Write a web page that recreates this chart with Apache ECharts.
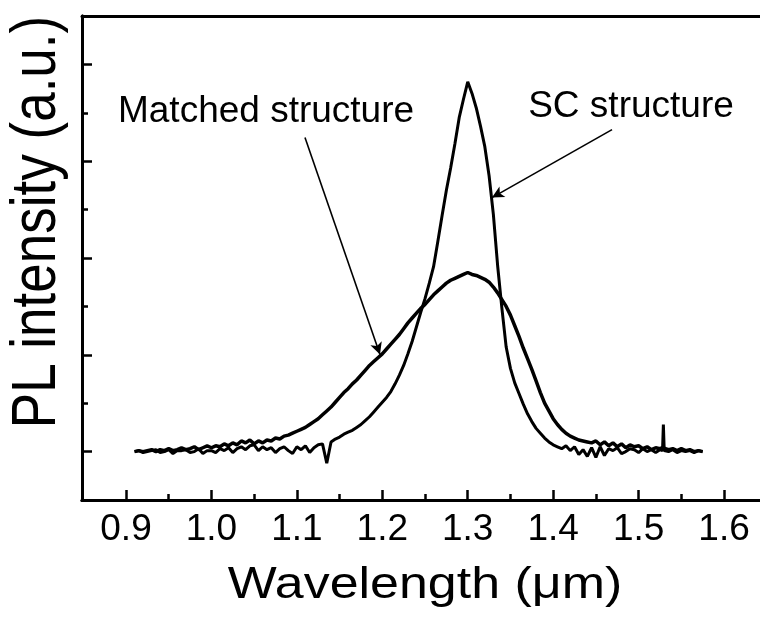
<!DOCTYPE html>
<html>
<head>
<meta charset="utf-8">
<script src="https://cdn.jsdelivr.net/npm/echarts@6/dist/echarts.min.js"></script>
<style>
  html, body { margin: 0; padding: 0; background: #fff; }
  #main { width: 760px; height: 620px; }
</style>
</head>
<body>
<div id="main"></div>
<script>
// wavelength samples (um)
const wavelength = [
  0.910, 0.915, 0.920, 0.925, 0.930, 0.935, 0.940, 0.945, 0.950, 0.955,
  0.960, 0.965, 0.970, 0.975, 0.980, 0.985, 0.990, 0.995, 1.000, 1.005,
  1.010, 1.015, 1.020, 1.025, 1.030, 1.035, 1.040, 1.045, 1.050, 1.055,
  1.060, 1.065, 1.070, 1.075, 1.080, 1.085, 1.090, 1.095, 1.100, 1.105,
  1.110, 1.115, 1.120, 1.125, 1.130, 1.135, 1.140, 1.145, 1.150, 1.155,
  1.160, 1.165, 1.170, 1.175, 1.180, 1.185, 1.190, 1.195, 1.200, 1.205,
  1.210, 1.215, 1.220, 1.225, 1.230, 1.235, 1.240, 1.245, 1.250, 1.255,
  1.260, 1.265, 1.270, 1.275, 1.280, 1.285, 1.290, 1.295, 1.300, 1.305,
  1.310, 1.315, 1.320, 1.325, 1.330, 1.335, 1.340, 1.345, 1.350, 1.355,
  1.360, 1.365, 1.370, 1.375, 1.380, 1.385, 1.390, 1.395, 1.400, 1.405,
  1.410, 1.415, 1.420, 1.425, 1.430, 1.435, 1.440, 1.445, 1.450, 1.455,
  1.460, 1.465, 1.470, 1.475, 1.480, 1.485, 1.490, 1.495, 1.500, 1.505,
  1.510, 1.515, 1.520, 1.525, 1.528, 1.529,
  1.530, 1.535, 1.540, 1.545, 1.550, 1.555, 1.560, 1.565, 1.570, 1.575
];

// SC structure (narrow peak)
const scStructure = [
  0.00, 0.01, -0.01, 0.00, 0.01, 0.02, -0.01, 0.00, 0.02, -0.02,
  0.01, 0.01, 0.02, -0.01, 0.00, 0.03, -0.02, 0.01, 0.01, -0.01,
  0.03, 0.01, 0.04, -0.01, 0.03, 0.05, 0.02, 0.06, 0.07, 0.01,
  0.05, 0.02, 0.04, -0.01, 0.03, 0.05, 0.01, -0.02, 0.05, 0.02,
  0.06, -0.01, 0.04, 0.07, 0.08, -0.12, 0.10, 0.13, 0.15, 0.18,
  0.20, 0.22, 0.25, 0.28, 0.32, 0.36, 0.41, 0.46, 0.51, 0.56,
  0.62, 0.70, 0.79, 0.89, 1.01, 1.14, 1.29, 1.44, 1.58, 1.74,
  1.91, 2.17, 2.44, 2.70, 2.93, 3.18, 3.45, 3.64, 3.82, 3.70,
  3.55, 3.36, 3.15, 2.85, 2.45, 1.92, 1.48, 1.08, 0.86, 0.71,
  0.60, 0.49, 0.39, 0.31, 0.24, 0.19, 0.14, 0.10, 0.07, 0.05,
  0.03, 0.06, 0.01, 0.05, -0.03, 0.02, -0.05, 0.04, -0.06, 0.05,
  -0.04, 0.03, 0.01, 0.04, -0.02, 0.00, 0.03, 0.02, -0.01, 0.03,
  0.00, 0.02, -0.01, 0.02, 0.01, 0.28,
  0.01, 0.00, 0.02, -0.01, 0.01, 0.00, 0.01, -0.01, 0.01, 0.00
];

// Matched structure (broad peak)
const matchedStructure = [
  0.00, 0.01, 0.00, 0.01, 0.02, 0.00, 0.02, 0.01, 0.03, 0.01,
  0.02, 0.04, 0.02, 0.03, 0.05, 0.02, 0.04, 0.06, 0.04, 0.06,
  0.05, 0.08, 0.06, 0.09, 0.07, 0.11, 0.09, 0.12, 0.08, 0.11,
  0.09, 0.12, 0.11, 0.14, 0.13, 0.16, 0.17, 0.19, 0.21, 0.23,
  0.25, 0.28, 0.31, 0.34, 0.38, 0.42, 0.46, 0.51, 0.56, 0.61,
  0.65, 0.70, 0.74, 0.79, 0.84, 0.89, 0.93, 0.97, 1.01, 1.06,
  1.11, 1.16, 1.21, 1.27, 1.33, 1.38, 1.43, 1.48, 1.52, 1.57,
  1.62, 1.66, 1.70, 1.74, 1.77, 1.79, 1.81, 1.83, 1.85, 1.83,
  1.82, 1.80, 1.78, 1.75, 1.70, 1.64, 1.57, 1.50, 1.41, 1.30,
  1.19, 1.07, 0.96, 0.85, 0.73, 0.61, 0.50, 0.42, 0.34, 0.28,
  0.23, 0.19, 0.16, 0.14, 0.12, 0.11, 0.10, 0.09, 0.11, 0.07,
  0.10, 0.06, 0.09, 0.05, 0.08, 0.04, 0.07, 0.05, 0.06, 0.03,
  0.05, 0.02, 0.04, 0.03, 0.04, 0.03,
  0.03, 0.02, 0.03, 0.01, 0.03, 0.01, 0.02, 0.00, 0.01, 0.00
];

const xMajorTicks = [0.9, 1.0, 1.1, 1.2, 1.3, 1.4, 1.5, 1.6];
const xMinorTicks = [0.95, 1.05, 1.15, 1.25, 1.35, 1.45, 1.55];
const yMajorTicks = [0, 1, 2, 3, 4];
const yMinorTicks = [0.5, 1.5, 2.5, 3.5];

// annotation arrows [from, to] and label anchors, in data units
const arrowMatched = [[1.1095, 3.244], [1.1973, 1.002]];
const arrowSC = [[1.4689, 3.326], [1.3284, 2.624]];
const labelMatched = [1.0639, 3.51];
const labelSC = [1.4911, 3.564];

const FONT = 'Liberation Sans, Arial, sans-serif';

function pairs(xs, ys) {
  const out = [];
  for (let i = 0; i < xs.length; i++) out.push([xs[i], ys[i]]);
  return out;
}

const chart = echarts.init(document.getElementById('main'), null, { renderer: 'canvas' });

const xBase = {
  type: 'value',
  min: 0.8485,
  max: 1.6421,
  position: 'bottom',
  splitLine: { show: false },
  axisLine: { show: true, onZero: false, lineStyle: { color: '#000', width: 3 } }
};
const yBase = {
  type: 'value',
  min: -0.5,
  max: 4.5,
  position: 'left',
  splitLine: { show: false },
  axisLabel: { show: false },
  axisLine: { show: true, onZero: false, lineStyle: { color: '#000', width: 3 } }
};

const option = {
  backgroundColor: '#fff',
  animation: false,
  grid: { left: 82, top: 16, right: 0, bottom: 120, show: false },
  xAxis: [
    Object.assign({}, xBase, {
      axisTick: { show: true, inside: true, length: 10, customValues: xMajorTicks,
        lineStyle: { color: '#000', width: 2.5 } },
      axisLabel: { show: true, customValues: xMajorTicks, margin: 11, color: '#000',
        fontSize: 37, fontFamily: FONT, formatter: function (v) { return v.toFixed(1); } }
    }),
    Object.assign({}, xBase, {
      axisTick: { show: true, inside: true, length: 6, customValues: xMinorTicks,
        lineStyle: { color: '#000', width: 2.5 } },
      axisLabel: { show: false }
    }),
    // top frame line
    Object.assign({}, xBase, {
      position: 'top',
      axisTick: { show: false },
      axisLabel: { show: false }
    })
  ],
  yAxis: [
    Object.assign({}, yBase, {
      axisTick: { show: true, inside: true, length: 10, customValues: yMajorTicks,
        lineStyle: { color: '#000', width: 2.5 } }
    }),
    Object.assign({}, yBase, {
      axisTick: { show: true, inside: true, length: 6, customValues: yMinorTicks,
        lineStyle: { color: '#000', width: 2.5 } }
    })
  ],
  series: [
    {
      name: 'Matched structure',
      type: 'line',
      xAxisIndex: 0, yAxisIndex: 0,
      showSymbol: false,
      data: pairs(wavelength, matchedStructure),
      lineStyle: { color: '#000', width: 3.5 },
      z: 3
    },
    {
      name: 'SC structure',
      type: 'line',
      xAxisIndex: 0, yAxisIndex: 0,
      showSymbol: false,
      data: pairs(wavelength, scStructure),
      lineStyle: { color: '#000', width: 3 },
      z: 3,
      markLine: {
        silent: true,
        symbol: ['none', 'arrow'],
        symbolSize: [9, 12],
        label: { show: false },
        lineStyle: { color: '#000', width: 1.6, type: 'solid' },
        data: [
          [{ coord: arrowMatched[0] }, { coord: arrowMatched[1] }],
          [{ coord: arrowSC[0] }, { coord: arrowSC[1] }]
        ]
      }
    }
  ]
};

chart.setOption(option);

const pm = chart.convertToPixel({ gridIndex: 0 }, labelMatched);
const ps = chart.convertToPixel({ gridIndex: 0 }, labelSC);

chart.setOption({
  graphic: [
    {
      type: 'text', x: pm[0], y: pm[1],
      style: { text: 'Matched structure', font: '37px ' + FONT, fill: '#000',
        textAlign: 'center', textVerticalAlign: 'middle' }
    },
    {
      type: 'text', x: ps[0], y: ps[1],
      style: { text: 'SC structure', font: '37px ' + FONT, fill: '#000',
        textAlign: 'center', textVerticalAlign: 'middle' }
    },
    {
      type: 'text', x: 425, y: 586, scaleX: 1.18,
      style: { text: 'Wavelength (\u03bcm)', font: '44px ' + FONT, fill: '#000',
        textAlign: 'center', textVerticalAlign: 'middle' }
    },
    {
      type: 'text', x: 38, y: 222, rotation: Math.PI / 2, scaleY: 1.19,
      style: { text: 'PL intensity (a.u.)', font: '53px ' + FONT, fill: '#000',
        textAlign: 'center', textVerticalAlign: 'middle' }
    }
  ]
});
</script>
</body>
</html>
